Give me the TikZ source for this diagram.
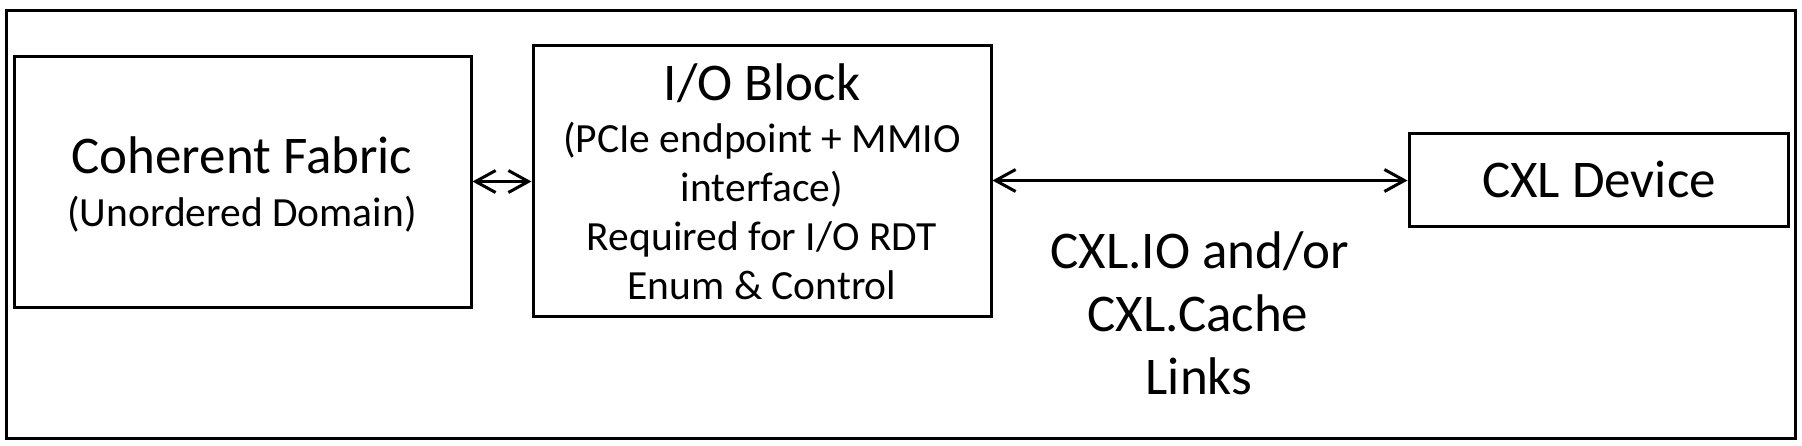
\documentclass[tikz,border=0pt]{standalone}
\usepackage{fontspec}
\setmainfont{Carlito}
\usetikzlibrary{arrows.meta}
\tikzset{
  blk/.style={draw=black, line width=3pt, inner sep=0pt},
  txt/.style={inner sep=0pt, anchor=base, text=black},
  bigtxt/.style={font=\fontsize{53}{60}\selectfont},
  midtxt/.style={font=\fontsize{41.5}{48}\selectfont},
  link/.style={line width=3pt, {Straight Barb[length=20pt,width=22pt]}-{Straight Barb[length=20pt,width=22pt]}}
}
\begin{document}
\begin{tikzpicture}[x=1pt,y=-1pt]
\useasboundingbox (0,0) rectangle (1802,445);
\fill[white] (0,0) rectangle (1802,445);
\draw[line width=3pt] (6,10) rectangle (1795,438);
% boxes
\node[blk, minimum width=457pt, minimum height=251pt] (fabric) at (242.5,181.5) {};
\node[blk, minimum width=458pt, minimum height=271pt] (io) at (762,180.5) {};
\node[blk, minimum width=379pt, minimum height=93pt] (cxl) at (1598.5,180) {};
% texts
\node[txt,bigtxt] (fabricT) at (242,173) {Coherent Fabric};
\node[txt,midtxt] (fabricS) at (242,226) {(Unordered Domain)};
\node[txt,bigtxt] (ioT) at (762,100) {I/O Block};
\node[txt,midtxt] (ioA) at (762,152) {(PCIe endpoint + MMIO};
\node[txt,midtxt] (ioB) at (762,201) {interface)};
\node[txt,midtxt] (ioC) at (762,250) {Required for I/O RDT};
\node[txt,midtxt] (ioD) at (762,299) {Enum \& Control};
\node[txt,bigtxt] (cxlT) at (1599,197) {CXL Device};
\node[txt,bigtxt] (lnkA) at (1200,268) {CXL.IO and/or};
\node[txt,bigtxt] (lnkB) at (1198,331) {CXL.Cache};
\node[txt,bigtxt] (lnkC) at (1199,394) {Links};
% connectors
\draw[link] (fabric.east) -- (fabric.east -| io.west);
\draw[link] (io.east) -- (io.east -| cxl.west);
\end{tikzpicture}
\end{document}
